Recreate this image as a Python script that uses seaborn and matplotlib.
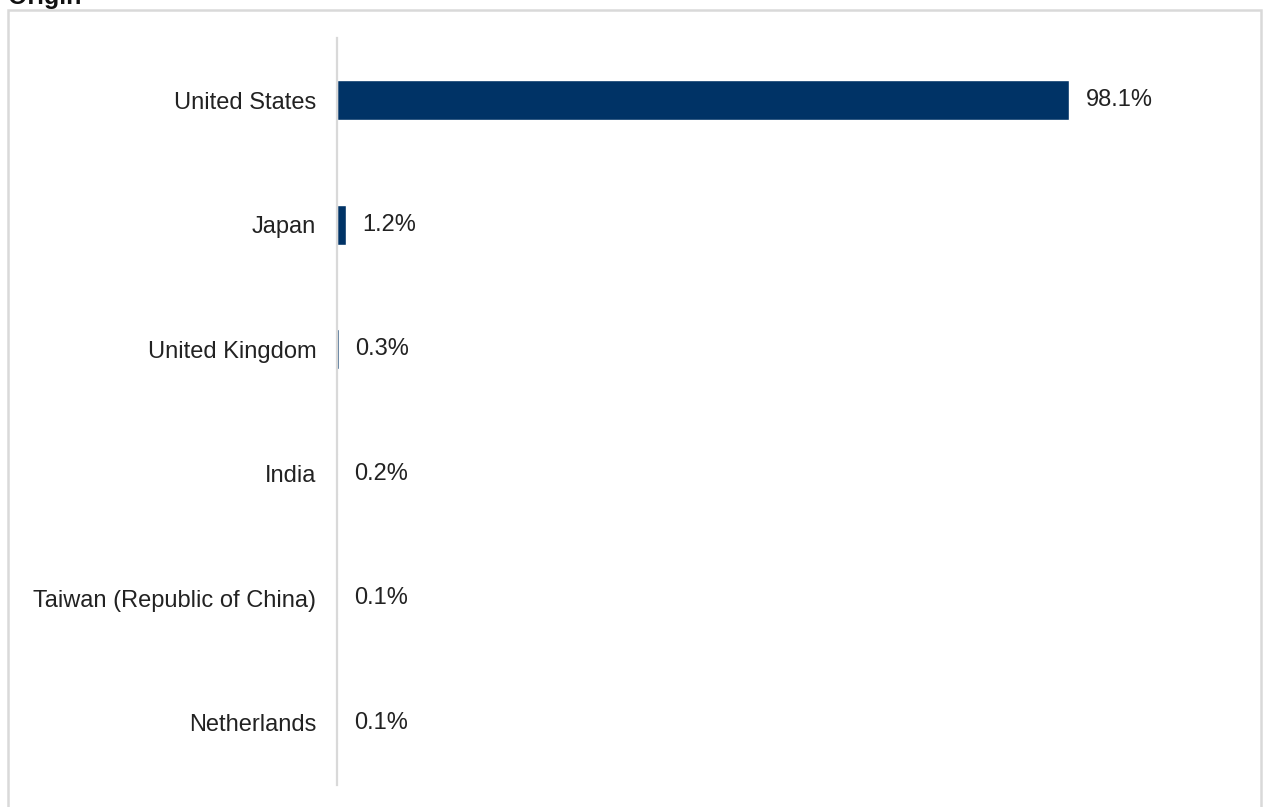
import matplotlib
matplotlib.use("Agg")
import matplotlib.pyplot as plt
import matplotlib.patches as patches
import seaborn as sns
import pandas as pd

# ---------------------------------------------------------------------------
# Data
# ---------------------------------------------------------------------------
countries = ["United States", "Japan", "United Kingdom", "India",
             "Taiwan (Republic of China)", "Netherlands"]
shares = [98.1, 1.2, 0.3, 0.2, 0.1, 0.1]
value_labels = ["98.1%", "1.2%", "0.3%", "0.2%", "0.1%", "0.1%"]

df = pd.DataFrame({"country": countries, "share": shares})

BAR_COLOR = "#003366"
GRID_GRAY = "#d9d9d9"

sns.set_style("white")
plt.rcParams["font.family"] = ["Liberation Sans", "DejaVu Sans"]

fig = plt.figure(figsize=(12.65, 8.07), dpi=100)
ax = fig.add_axes([337 / 1265, 1 - 785 / 807, (1233 - 337) / 1265, (785 - 38) / 807])

sns.barplot(data=df, x="share", y="country", color=BAR_COLOR, width=0.32,
            orient="h", ax=ax, saturation=1)

for txt in ax.bar_label(ax.containers[0], labels=value_labels, padding=11.5,
                        fontsize=17, color="#222222"):
    txt.set_va("center")

ax.set_xlim(0, 120)
ax.set_ylim(5.5, -0.5)
ax.set_xlabel("")
ax.set_ylabel("")
ax.set_xticks([])
ax.tick_params(axis="y", length=0, pad=15, labelsize=17, labelcolor="#222222")

for side in ["top", "right", "bottom"]:
    ax.spines[side].set_visible(False)
ax.spines["left"].set_color(GRID_GRAY)
ax.spines["left"].set_linewidth(1.6)

# outer frame (bottom runs off the image)
frame = patches.Rectangle((8 / 1265, -0.05), (1261 - 8) / 1265, 1 - 10 / 807 + 0.05,
                          transform=fig.transFigure, fill=False,
                          edgecolor=GRID_GRAY, linewidth=1.8, clip_on=False)
fig.patches.append(frame)

# title, mostly cut off at the top edge as in the source
fig.text(8 / 1265, 1 - 4 / 807, "Origin", fontsize=18, fontweight="bold",
         va="baseline", ha="left", color="#111111")

fig.savefig("out.png", dpi=100)
